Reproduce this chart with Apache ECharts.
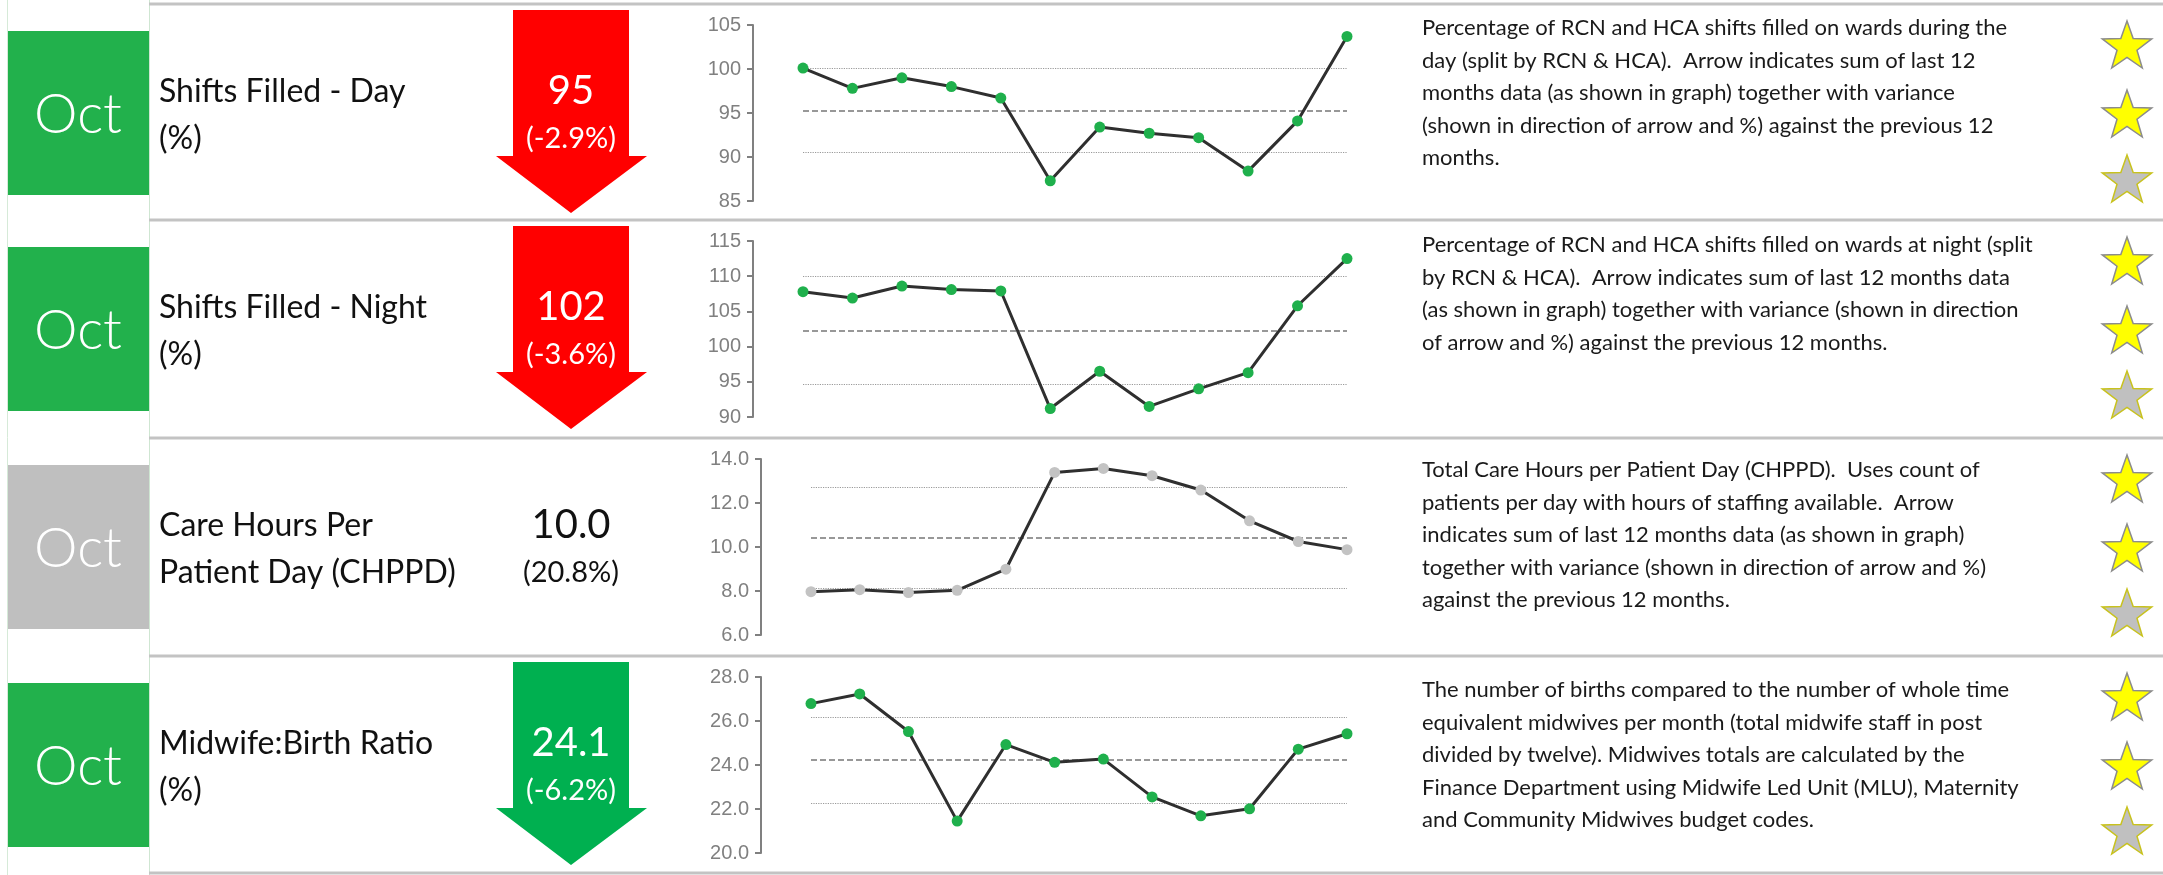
<!DOCTYPE html>
<html>
<head>
<meta charset="utf-8">
<title>Staffing Dashboard</title>
<script src="https://cdn.jsdelivr.net/npm/echarts@6/dist/echarts.min.js"></script>
<style>
  html, body { margin: 0; padding: 0; background: #ffffff; }
  #dash { width: 2163px; height: 875px; }
</style>
</head>
<body>
<div id="dash"></div>
<script>
// ---- data ----
const months = ['Nov', 'Dec', 'Jan', 'Feb', 'Mar', 'Apr', 'May', 'Jun', 'Jul', 'Aug', 'Sep', 'Oct'];

const shiftsDay   = [100.1, 97.8, 99.0, 98.0, 96.7, 87.3, 93.4, 92.7, 92.2, 88.4, 94.1, 103.7];
const shiftsNight = [107.8, 106.9, 108.6, 108.1, 107.9, 91.2, 96.5, 91.5, 94.0, 96.3, 105.8, 112.5];
const chppd       = [7.97, 8.06, 7.93, 8.03, 8.99, 13.39, 13.57, 13.24, 12.59, 11.19, 10.25, 9.88];
const midwifeRatio = [26.79, 27.23, 25.52, 21.45, 24.93, 24.12, 24.27, 22.55, 21.69, 22.01, 24.72, 25.42];

// control lines per chart: [upper, mean, lower]
const limitsDay     = [100.05, 95.3, 90.5];
const limitsNight   = [110.0, 102.3, 94.6];
const limitsChppd   = [12.71, 10.43, 8.13];
const limitsMidwife = [26.16, 24.23, 22.28];

// y-axis ranges: [min, max, interval]
const axisDay     = [85, 105, 5];
const axisNight   = [90, 115, 5];
const axisChppd   = [6, 14, 2];
const axisMidwife = [20, 28, 2];

const periodLabel = 'Oct';
const kpiTitles = [
  ['Shifts Filled - Day', '(%)'],
  ['Shifts Filled - Night', '(%)'],
  ['Care Hours Per', 'Patient Day (CHPPD)'],
  ['Midwife:Birth Ratio', '(%)']
];
const kpiValues  = ['95', '102', '10.0', '24.1'];
const kpiChanges = ['(-2.9%)', '(-3.6%)', '(20.8%)', '(-6.2%)'];
const descriptions = [
  ['Percentage of RCN and HCA shifts filled on wards during the',
   'day (split by RCN & HCA).  Arrow indicates sum of last 12',
   'months data (as shown in graph) together with variance',
   '(shown in direction of arrow and %) against the previous 12',
   'months.'],
  ['Percentage of RCN and HCA shifts filled on wards at night (split',
   'by RCN & HCA).  Arrow indicates sum of last 12 months data',
   '(as shown in graph) together with variance (shown in direction',
   'of arrow and %) against the previous 12 months.'],
  ['Total Care Hours per Patient Day (CHPPD).  Uses count of',
   'patients per day with hours of staffing available.  Arrow',
   'indicates sum of last 12 months data (as shown in graph)',
   'together with variance (shown in direction of arrow and %)',
   'against the previous 12 months.'],
  ['The number of births compared to the number of whole time',
   'equivalent midwives per month (total midwife staff in post',
   'divided by twelve). Midwives totals are calculated by the',
   'Finance Department using Midwife Led Unit (MLU), Maternity',
   'and Community Midwives budget codes.']
];
// ---- end data ----

const GREEN_BOX = '#22b14c';
const GREY_BOX = '#bfbfbf';
const RED = '#ff0000';
const GREEN_ARROW = '#00b050';
const DOT_GREEN = '#1fb04c';
const DOT_GREY = '#c3c3c3';
const TEXT_FONT = 'Lato, "Open Sans", sans-serif';

const rows = [
  { top: 4,   box: GREEN_BOX, arrow: RED,         series: shiftsDay,    limits: limitsDay,     axis: axisDay,     dot: DOT_GREEN, left: 803, decimals: 0, descTop: 24 },
  { top: 220, box: GREEN_BOX, arrow: RED,         series: shiftsNight,  limits: limitsNight,   axis: axisNight,   dot: DOT_GREEN, left: 803, decimals: 0, descTop: 25 },
  { top: 438, box: GREY_BOX,  arrow: null,        series: chppd,        limits: limitsChppd,   axis: axisChppd,   dot: DOT_GREY,  left: 811, decimals: 1, descTop: 32 },
  { top: 656, box: GREEN_BOX, arrow: GREEN_ARROW, series: midwifeRatio, limits: limitsMidwife, axis: axisMidwife, dot: DOT_GREEN, left: 811, decimals: 1, descTop: 34 }
];
const CHART_RIGHT = 1347;

function starPoints(cx, cy, R, r) {
  const pts = [];
  for (let k = 0; k < 10; k++) {
    const rad = (k % 2 === 0) ? R : r;
    const a = -Math.PI / 2 + k * Math.PI / 5;
    pts.push([cx + rad * Math.cos(a), cy + rad * Math.sin(a)]);
  }
  return pts;
}

function txt(x, y, text, font, fill, align) {
  return {
    type: 'text', x: x, y: y, z: 10,
    style: { text: text, font: font, fill: fill, align: align || 'left', verticalAlign: 'middle',
             textAlign: align || 'left', textVerticalAlign: 'middle' }
  };
}

const grids = [], xAxes = [], yAxes = [], series = [], graphics = [];

// left column cell borders
graphics.push({ type: 'line', z: 1, shape: { x1: 7.5, y1: 0, x2: 7.5, y2: 875 }, style: { stroke: '#d6ead8', lineWidth: 1 } });
graphics.push({ type: 'line', z: 1, shape: { x1: 149.5, y1: 0, x2: 149.5, y2: 875 }, style: { stroke: '#cfe6d2', lineWidth: 1 } });

// row separators
[4, 220, 438, 656, 873].forEach(function (y) {
  graphics.push({ type: 'line', z: 2, shape: { x1: 149, y1: y, x2: 2163, y2: y }, style: { stroke: '#c3c3c3', lineWidth: 3 } });
});

rows.forEach(function (row, i) {
  const t = row.top;

  // period box
  graphics.push({ type: 'rect', z: 3, shape: { x: 8, y: t + 27, width: 141, height: 164 }, style: { fill: row.box } });
  graphics.push(txt(78, t + 111, periodLabel, '300 55px ' + TEXT_FONT, '#ffffff', 'center'));

  // KPI title
  graphics.push(txt(159, t + 88, kpiTitles[i][0], '32px ' + TEXT_FONT, '#111111'));
  graphics.push(txt(159, t + 135, kpiTitles[i][1], '32px ' + TEXT_FONT, '#111111'));

  // direction arrow
  if (row.arrow) {
    graphics.push({
      type: 'polygon', z: 3,
      shape: { points: [[513, t + 6], [629, t + 6], [629, t + 152], [647, t + 152], [571, t + 209], [496, t + 152], [513, t + 152]] },
      style: { fill: row.arrow }
    });
  }
  const valColor = row.arrow ? '#ffffff' : '#111111';
  graphics.push(txt(571, t + 87, kpiValues[i], '40px ' + TEXT_FONT, valColor, 'center'));
  graphics.push(txt(571, t + 135, kpiChanges[i], '29px ' + TEXT_FONT, valColor, 'center'));

  // description
  descriptions[i].forEach(function (line, k) {
    graphics.push(txt(1422, t + row.descTop + k * 32.5, line, '22px ' + TEXT_FONT, '#1a1a1a'));
  });

  // rating stars
  [[43, '#ffff00', '#8c8c8c'], [112, '#ffff00', '#8c8c8c'], [177, '#c0c0c0', '#c8c21e']].forEach(function (s) {
    graphics.push({
      type: 'polygon', z: 3,
      shape: { points: starPoints(2127, t + s[0], 26, 10.5) },
      style: { fill: s[1], stroke: s[2], lineWidth: 1.5 }
    });
  });

  // trend chart
  grids.push({ left: row.left, width: CHART_RIGHT - row.left, top: t + 21, height: 176 });
  xAxes.push({ type: 'category', gridIndex: i, data: months, boundaryGap: false, show: false });
  yAxes.push({
    type: 'value', gridIndex: i,
    min: row.axis[0], max: row.axis[1], interval: row.axis[2],
    offset: 50,
    axisLine: { show: true, lineStyle: { color: '#808080', width: 2 } },
    axisTick: { show: true, length: 6, lineStyle: { color: '#808080', width: 2 } },
    axisLabel: {
      color: '#808080', fontSize: 20, fontFamily: 'Liberation Sans, Arial, sans-serif', margin: 12,
      formatter: (function (d) { return function (v) { return v.toFixed(d); }; })(row.decimals)
    },
    splitLine: { show: false }
  });
  series.push({
    type: 'line', xAxisIndex: i, yAxisIndex: i, data: row.series,
    symbol: 'circle', symbolSize: 11, z: 4,
    itemStyle: { color: row.dot, borderWidth: 0 },
    lineStyle: { color: '#2f2f2f', width: 3 },
    emphasis: { disabled: true },
    markLine: {
      silent: true, symbol: 'none', z: 1,
      label: { show: false },
      data: [
        { yAxis: row.limits[0], lineStyle: { type: 'dotted', color: '#9a9a9a', width: 1.2 } },
        { yAxis: row.limits[1], lineStyle: { type: 'dashed', color: '#777777', width: 1.5 } },
        { yAxis: row.limits[2], lineStyle: { type: 'dotted', color: '#9a9a9a', width: 1.2 } }
      ]
    }
  });
});

const chart = echarts.init(document.getElementById('dash'), null, { renderer: 'canvas' });
chart.setOption({
  animation: false,
  backgroundColor: '#ffffff',
  grid: grids,
  xAxis: xAxes,
  yAxis: yAxes,
  series: series,
  graphic: graphics
});
</script>
</body>
</html>
